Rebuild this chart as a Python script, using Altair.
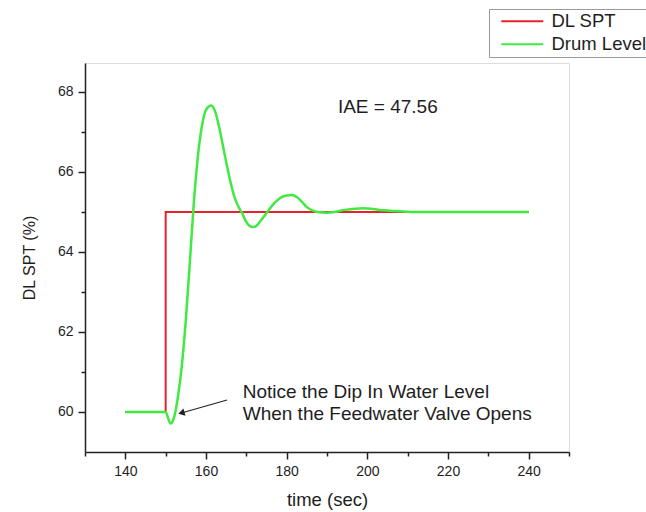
import altair as alt
import pandas as pd

# ---- data ----
spt_t = [140, 150, 150, 240]
spt_v = [60, 60, 65, 65]

lvl_t = [140, 150, 150.5, 151.2, 151.8, 152.5, 153, 154, 155, 156, 157, 158, 159, 160,
         161.3, 162.3, 163.3, 164.3, 165.3, 166.3, 167.3, 168.3, 168.9, 169.8, 170.8,
         171.7, 172.6, 173.5, 174.5, 175.4, 176.5, 177.8, 179, 180, 181.3, 182.5, 183.8,
         185, 186.5, 188, 190, 192, 194.5, 197, 199, 201.5, 204, 207, 211, 220, 240]
lvl_v = [60, 60, 59.88, 59.71, 59.78, 60.05, 60.35, 61.15, 62.3, 63.75, 65.25, 66.4, 67.15, 67.55,
         67.66, 67.5, 67.1, 66.6, 66.1, 65.65, 65.3, 65.08, 64.98, 64.78, 64.65,
         64.62, 64.66, 64.77, 64.9, 65.02, 65.17, 65.3, 65.38, 65.41, 65.42, 65.37, 65.25,
         65.12, 65.03, 64.99, 64.98, 65.0, 65.05, 65.08, 65.09, 65.07, 65.04, 65.02, 65.0, 65.0, 65.0]

series_names = ["DL SPT", "Drum Level"]
series_colors = ["#e8222a", "#40ea40"]

x_ticks = list(range(130, 251, 10))
y_ticks = list(range(60, 69))

iae_text = ["IAE = 47.56"]
iae_x = [192.7]
iae_y = [67.62]

note_lines = ["Notice the Dip In Water Level", "When the Feedwater Valve Opens"]
note_x = [169.1, 169.1]
note_y = [60.35, 59.79]

arrow_x = [165.2, 153.9]
arrow_y = [60.3, 59.975]

FONT = "Liberation Sans"
TXT = "#1e1e1e"

spt = pd.DataFrame({"t": spt_t, "v": spt_v, "series": series_names[0], "idx": range(len(spt_t))})
lvl = pd.DataFrame({"t": lvl_t, "v": lvl_v, "series": series_names[1], "idx": range(len(lvl_t))})

xscale = alt.Scale(domain=[130, 250], nice=False, zero=False)
yscale = alt.Scale(domain=[59, 68.72], nice=False, zero=False)

color = alt.Color("series:N",
                  scale=alt.Scale(domain=series_names, range=series_colors),
                  legend=alt.Legend(title=None, orient="none", legendX=404, legendY=-54,
                                    direction="vertical",
                                    symbolType="M0,0H8.4", symbolSize=100, symbolStrokeWidth=2,
                                    labelFont=FONT, labelFontSize=18.5, labelColor=TXT,
                                    labelOffset=41, rowPadding=4,
                                    strokeColor="#999999", fillColor="white",
                                    padding=3))

xaxis = alt.Axis(values=x_ticks, title="time (sec)",
                 labelExpr="datum.value % 20 == 0 ? datum.label : ''",
                 tickSize={"condition": {"test": "datum.value % 20 == 0", "value": 7}, "value": 4},
                 grid=False, domainColor="#222", tickColor="#222", domainWidth=1.5, tickWidth=1.5,
                 labelFont=FONT, labelFontSize=14, labelColor=TXT, labelPadding=5,
                 titleFont=FONT, titleFontSize=18.5, titleFontWeight="normal", titleColor=TXT,
                 titlePadding=12)
yaxis = alt.Axis(values=y_ticks, title="DL SPT (%)",
                 labelExpr="datum.value % 2 == 0 ? datum.label : ''",
                 tickSize={"condition": {"test": "datum.value % 2 == 0", "value": 7}, "value": 4},
                 grid=False, domainColor="#222", tickColor="#222", domainWidth=1.5, tickWidth=1.5,
                 labelFont=FONT, labelFontSize=14, labelColor=TXT, labelPadding=5,
                 titleFont=FONT, titleFontSize=16, titleFontWeight="normal", titleColor=TXT,
                 titlePadding=20)

spt_line = alt.Chart(spt).mark_line(strokeWidth=2).encode(
    x=alt.X("t:Q", scale=xscale, axis=xaxis),
    y=alt.Y("v:Q", scale=yscale, axis=yaxis),
    color=color,
    order="idx:Q",
)
lvl_line = alt.Chart(lvl).mark_line(strokeWidth=2.5, interpolate="monotone").encode(
    x=alt.X("t:Q", scale=xscale),
    y=alt.Y("v:Q", scale=yscale),
    color=color,
    order="idx:Q",
)

iae = alt.Chart(pd.DataFrame({"x": iae_x, "y": iae_y, "text": iae_text})).mark_text(
    align="left", baseline="middle", font=FONT, fontSize=19, color=TXT
).encode(x=alt.X("x:Q", scale=xscale), y=alt.Y("y:Q", scale=yscale), text="text:N")

notes = alt.Chart(pd.DataFrame({"x": note_x, "y": note_y, "text": note_lines})).mark_text(
    align="left", baseline="alphabetic", font=FONT, fontSize=19, color=TXT
).encode(x=alt.X("x:Q", scale=xscale), y=alt.Y("y:Q", scale=yscale), text="text:N")

arrow_df = pd.DataFrame({"x": arrow_x, "y": arrow_y, "idx": [0, 1]})
arrow_line = alt.Chart(arrow_df).mark_line(color="#222", strokeWidth=1.2).encode(
    x=alt.X("x:Q", scale=xscale), y=alt.Y("y:Q", scale=yscale), order="idx:Q")
arrow_head = alt.Chart(arrow_df.iloc[[1]]).mark_point(
    shape="triangle-left", filled=True, color="#222", size=55, angle=344, opacity=1
).encode(x=alt.X("x:Q", scale=xscale), y=alt.Y("y:Q", scale=yscale))

chart = alt.layer(spt_line, lvl_line, iae, notes, arrow_line, arrow_head).properties(
    width=484, height=389,
    padding={"left": 85, "top": 63, "right": 77, "bottom": 60},
    autosize=alt.AutoSizeParams(type="none"),
).configure_view(stroke=None).configure(background="white")

chart.save("out.html", embed_options={"renderer": "svg", "actions": False})
